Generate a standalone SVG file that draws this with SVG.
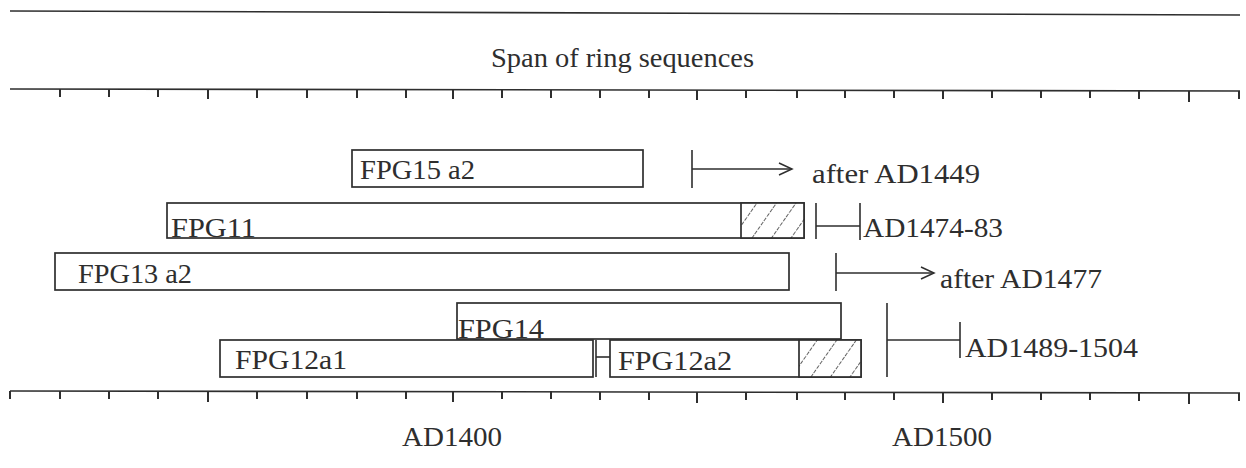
<svg xmlns="http://www.w3.org/2000/svg" width="1246" height="468" viewBox="0 0 1246 468">
<style>
.ln{stroke:#2e2e2e;stroke-width:1.6;fill:none}
.bar{stroke:#2e2e2e;stroke-width:1.7;fill:#fff}
.tk{stroke:#2e2e2e;stroke-width:2}
.t{font-family:"Liberation Serif","Times New Roman",serif;font-size:27px;fill:#2e2e2e}
.hatch{fill:url(#hatch);stroke:#2e2e2e;stroke-width:1.7}
</style>
<defs>
<pattern id="hatch" width="16" height="16" patternUnits="userSpaceOnUse" patternTransform="rotate(35)">
<rect width="16" height="16" fill="#fff"/>
<line x1="0" y1="0" x2="0" y2="16" stroke="#2e2e2e" stroke-width="1.5" stroke-dasharray="4 1.5"/>
</pattern>
<marker id="arr" markerUnits="userSpaceOnUse" markerWidth="16" markerHeight="14" refX="14" refY="7" orient="auto">
<path d="M1,1 L14,7 L1,13" fill="none" stroke="#2e2e2e" stroke-width="1.5"/>
</marker>
</defs>
<rect width="1246" height="468" fill="#fff"/>

<g id="axes">
<line class="ln" x1="10" y1="11" x2="1240" y2="15"/>
<line class="ln" x1="10" y1="89" x2="1240" y2="91"/>
<line class="ln" x1="10" y1="391" x2="1240" y2="393"/>
<g class="tk">
<path d="M60,89v8M109,89v8M158,89v8M208,89v10M257,90v8M307,90v8M357,90v8M406,90v8M453,90v9M502,90v8M551,90v8M600,90v8M649,90v8M697,90v10M746,90v8M797,90v8M845,90v8M894,90v8M943,90v9M992,90v8M1041,90v8M1090,90v8M1139,91v8M1189,91v11M1239,91v8"/>
<path d="M10,391v8M60,391v8M109,391v8M158,391v8M208,391v11M257,391v8M307,391v8M357,391v8M406,391v8M453,391v11M502,391v8M551,391v8M600,392v8M649,392v8M697,392v11M746,392v8M797,392v8M845,392v8M894,392v8M943,392v11M992,392v8M1041,392v8M1090,392v8M1139,393v8M1189,393v11M1239,393v8"/>
</g>
<text class="t" x="491" y="67" textLength="263" lengthAdjust="spacingAndGlyphs">Span of ring sequences</text>
<text class="t" x="402" y="446" textLength="100" lengthAdjust="spacingAndGlyphs">AD1400</text>
<text class="t" x="892" y="446" textLength="100" lengthAdjust="spacingAndGlyphs">AD1500</text>
</g>

<g id="fpg15a2">
<rect class="bar" x="352" y="150" width="291" height="37"/>
<text class="t" x="360" y="179" textLength="115" lengthAdjust="spacingAndGlyphs">FPG15 a2</text>
</g>
<g id="fpg11">
<rect class="bar" x="167" y="203" width="637" height="35"/>
<rect class="hatch" x="741" y="203" width="63" height="35"/>
<text class="t" x="171" y="237" textLength="85" lengthAdjust="spacingAndGlyphs">FPG11</text>
</g>
<g id="fpg13a2">
<rect class="bar" x="55" y="253" width="734" height="37"/>
<text class="t" x="78" y="283" textLength="114" lengthAdjust="spacingAndGlyphs">FPG13 a2</text>
</g>
<g id="fpg14">
<rect class="bar" x="457" y="303" width="384" height="36"/>
<text class="t" x="458" y="338" textLength="86" lengthAdjust="spacingAndGlyphs">FPG14</text>
</g>
<g id="fpg12a1">
<rect class="bar" x="220" y="340" width="373" height="37"/>
<text class="t" x="235" y="369" textLength="112" lengthAdjust="spacingAndGlyphs">FPG12a1</text>
</g>
<g id="fpg12a2">
<rect class="bar" x="610" y="340" width="251" height="37"/>
<rect class="hatch" x="799" y="340" width="62" height="37"/>
<text class="t" x="618" y="370" textLength="114" lengthAdjust="spacingAndGlyphs">FPG12a2</text>
</g>

<g id="connectors">
<line class="ln" x1="692" y1="150" x2="692" y2="188"/>
<line class="ln" x1="692" y1="169" x2="792" y2="169" marker-end="url(#arr)"/>
<line class="ln" x1="816" y1="203" x2="816" y2="239"/>
<line class="ln" x1="816" y1="226" x2="860" y2="226"/>
<line class="ln" x1="860" y1="203" x2="860" y2="240"/>
<line class="ln" x1="836" y1="253" x2="836" y2="291"/>
<line class="ln" x1="836" y1="273" x2="934" y2="273" marker-end="url(#arr)"/>
<line class="ln" x1="596" y1="340" x2="596" y2="377"/>
<line class="ln" x1="596" y1="357" x2="610" y2="357"/>
<line class="ln" x1="887" y1="303" x2="887" y2="377"/>
<line class="ln" x1="887" y1="340" x2="960" y2="340"/>
<line class="ln" x1="960" y1="322" x2="960" y2="358"/>
</g>

<g id="range-labels">
<text class="t" x="812" y="183" textLength="168" lengthAdjust="spacingAndGlyphs">after AD1449</text>
<text class="t" x="863" y="237" textLength="140" lengthAdjust="spacingAndGlyphs">AD1474-83</text>
<text class="t" x="940" y="288" textLength="162" lengthAdjust="spacingAndGlyphs">after AD1477</text>
<text class="t" x="965" y="357" textLength="173" lengthAdjust="spacingAndGlyphs">AD1489-1504</text>
</g>
</svg>
